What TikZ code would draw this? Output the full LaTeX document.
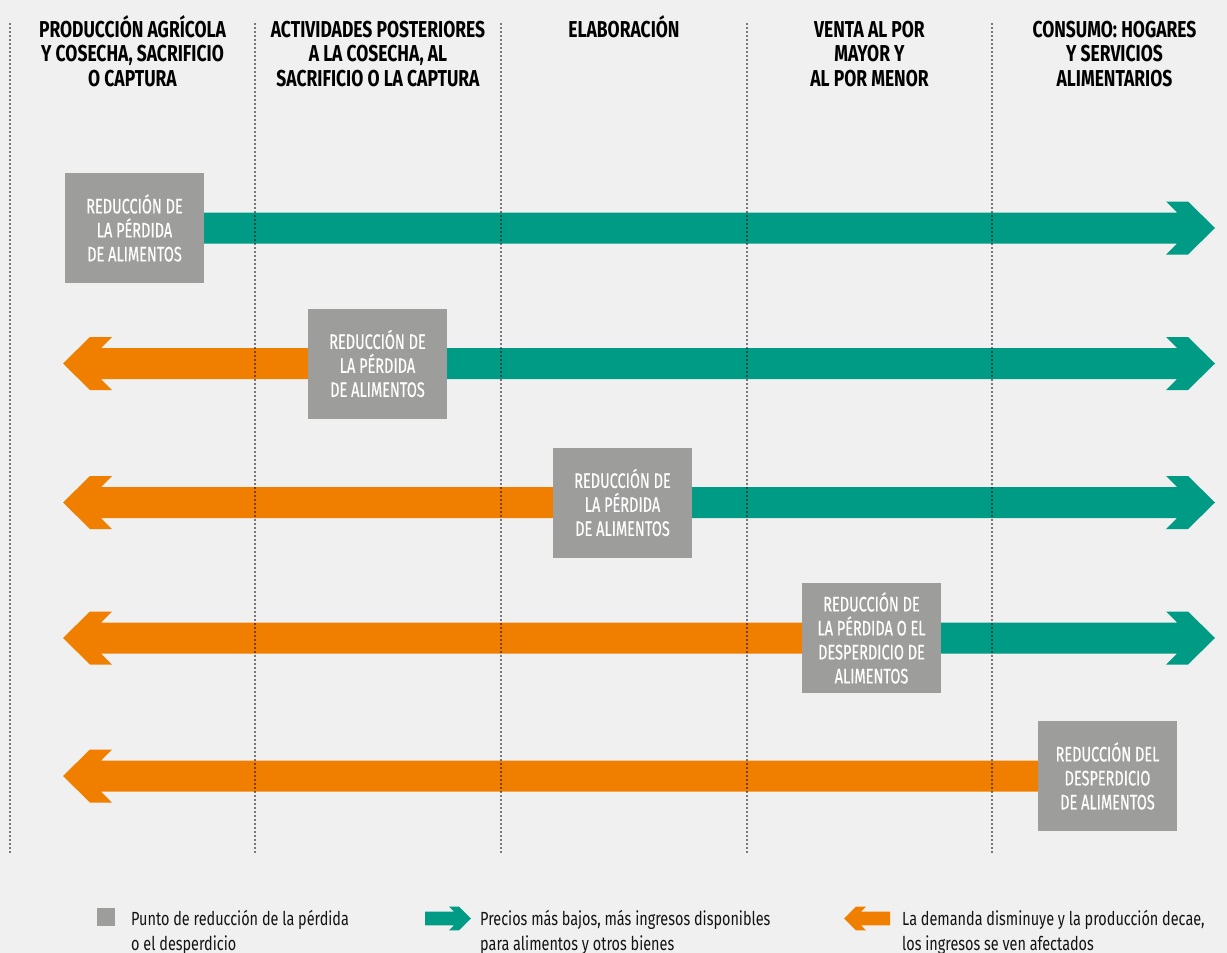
\documentclass[tikz,border=0pt]{standalone}
\usepackage{fontspec}
\setmainfont{Fira Sans}[FakeStretch=0.76]
\newfontfamily\boxfont{Fira Sans}[FakeStretch=0.69,FakeBold=0.5]
\usetikzlibrary{calc}
\definecolor{bgc}{RGB}{240,240,240}
\definecolor{tealc}{RGB}{0,155,133}
\definecolor{orangec}{RGB}{240,127,0}
\definecolor{boxgray}{RGB}{157,157,156}
\definecolor{textdark}{RGB}{20,20,20}
\pgfdeclarelayer{back}
\pgfsetlayers{back,main}
% right-pointing arrow: colour, start, tip, scale
\newcommand{\rarr}[4]{%
  \fill[#1] let \p1=(#2), \p2=(#3) in
    (\x1,\y2+15.5pt*#4) -- (\x2-38pt*#4,\y2+15.5pt*#4) -- (\x2-49pt*#4,\y2+26.5pt*#4)
    -- (\x2-27pt*#4,\y2+26.5pt*#4) -- (\x2,\y2) -- (\x2-27pt*#4,\y2-26.5pt*#4)
    -- (\x2-49pt*#4,\y2-26.5pt*#4) -- (\x2-38pt*#4,\y2-15.5pt*#4) -- (\x1,\y2-15.5pt*#4) -- cycle;}
% left-pointing arrow: colour, start, tip, scale
\newcommand{\larr}[4]{%
  \fill[#1] let \p1=(#2), \p2=(#3) in
    (\x1,\y2+15.5pt*#4) -- (\x2+38pt*#4,\y2+15.5pt*#4) -- (\x2+49pt*#4,\y2+26.5pt*#4)
    -- (\x2+27pt*#4,\y2+26.5pt*#4) -- (\x2,\y2) -- (\x2+27pt*#4,\y2-26.5pt*#4)
    -- (\x2+49pt*#4,\y2-26.5pt*#4) -- (\x2+38pt*#4,\y2-15.5pt*#4) -- (\x1,\y2-15.5pt*#4) -- cycle;}
\begin{document}
\begin{tikzpicture}[x=1pt,y=-1pt,
  redbox/.style={fill=boxgray, text=white, minimum width=139pt, minimum height=110pt,
    inner sep=0pt, align=center, font=\boxfont\fontsize{21}{24}\selectfont},
  colhead/.style={align=center, anchor=north, inner sep=0pt, text=black,
    font=\fontsize{23}{24.5}\selectfont\bfseries},
  legtext/.style={align=left, anchor=north west, inner sep=0pt, text=textdark,
    font=\fontsize{19}{25}\selectfont},
  sepline/.style={draw=black, line width=1.8pt, line cap=round, dash pattern=on 0pt off 4pt}]
\useasboundingbox (0,0) rectangle (1227,953);
\begin{pgfonlayer}{back}
  \fill[bgc] (0,0) rectangle (1227,953);
\end{pgfonlayer}

% column headers
\node[colhead] (h1) at (132.5,14) {\rule{0pt}{23pt}PRODUCCIÓN AGRÍCOLA\\Y COSECHA, SACRIFICIO\\O CAPTURA};
\node[colhead] (h2) at (378,14) {\rule{0pt}{23pt}ACTIVIDADES POSTERIORES\\A LA COSECHA, AL\\SACRIFICIO O LA CAPTURA};
\node[colhead] (h3) at (624,14) {\rule{0pt}{23pt}ELABORACIÓN};
\node[colhead] (h4) at (869.5,14) {\rule{0pt}{23pt}VENTA AL POR\\MAYOR Y\\AL POR MENOR};
\node[colhead] (h5) at (1114.5,14) {\rule{0pt}{23pt}CONSUMO: HOGARES\\Y SERVICIOS\\ALIMENTARIOS};

% reduction boxes
\node[redbox] (b1) at (134.5,228) {REDUCCIÓN DE\\LA PÉRDIDA\\DE ALIMENTOS};
\node[redbox] (b2) at (377.5,363.5) {REDUCCIÓN DE\\LA PÉRDIDA\\DE ALIMENTOS};
\node[redbox] (b3) at (622.5,502.5) {REDUCCIÓN DE\\LA PÉRDIDA\\DE ALIMENTOS};
\node[redbox] (b4) at (871.5,638) {REDUCCIÓN DE\\LA PÉRDIDA O EL\\DESPERDICIO DE\\ALIMENTOS};
\node[redbox] (b5) at (1107.5,776) {REDUCCIÓN DEL\\DESPERDICIO\\DE ALIMENTOS};

% arrow tips
\coordinate (rx) at (1215,0);
\coordinate (lx) at (63,0);
\coordinate (r1) at (b1 -| rx);
\coordinate (r2) at (b2 -| rx);
\coordinate (r3) at (b3 -| rx);
\coordinate (r4) at (b4 -| rx);
\coordinate (l2) at (b2 -| lx);
\coordinate (l3) at (b3 -| lx);
\coordinate (l4) at (b4 -| lx);
\coordinate (l5) at (b5 -| lx);

\begin{pgfonlayer}{back}
  \rarr{tealc}{b1.center}{r1}{1}
  \rarr{tealc}{b2.center}{r2}{1}
  \rarr{tealc}{b3.center}{r3}{1}
  \rarr{tealc}{b4.center}{r4}{1}
  \larr{orangec}{b2.center}{l2}{1}
  \larr{orangec}{b3.center}{l3}{1}
  \larr{orangec}{b4.center}{l4}{1}
  \larr{orangec}{b5.center}{l5}{1}
\end{pgfonlayer}

% dotted column separators
\foreach \i/\x in {1/10,2/255,3/501,4/747,5/992}{
  \coordinate (st\i) at (\x,24);
  \coordinate (sb\i) at (\x,853);
  \draw[sepline] (st\i) -- (sb\i);
}

% legend
\node[fill=boxgray, minimum size=18pt, inner sep=0pt] (lsq) at (106,917) {};
\node[legtext] (lt1) at (131,907) {\rule{0pt}{18pt}Punto de reducción de la pérdida\\o el desperdicio};
\coordinate (lga) at (425,918.5);
\coordinate (lgb) at (471,918.5);
\rarr{tealc}{lga}{lgb}{0.45}
\node[legtext] (lt2) at (480,907) {\rule{0pt}{18pt}Precios más bajos, más ingresos disponibles\\para alimentos y otros bienes};
\coordinate (loa) at (890,918.5);
\coordinate (lob) at (844,918.5);
\larr{orangec}{loa}{lob}{0.45}
\node[legtext] (lt3) at (902,907) {\rule{0pt}{18pt}La demanda disminuye y la producción decae,\\los ingresos se ven afectados};
\end{tikzpicture}
\end{document}
